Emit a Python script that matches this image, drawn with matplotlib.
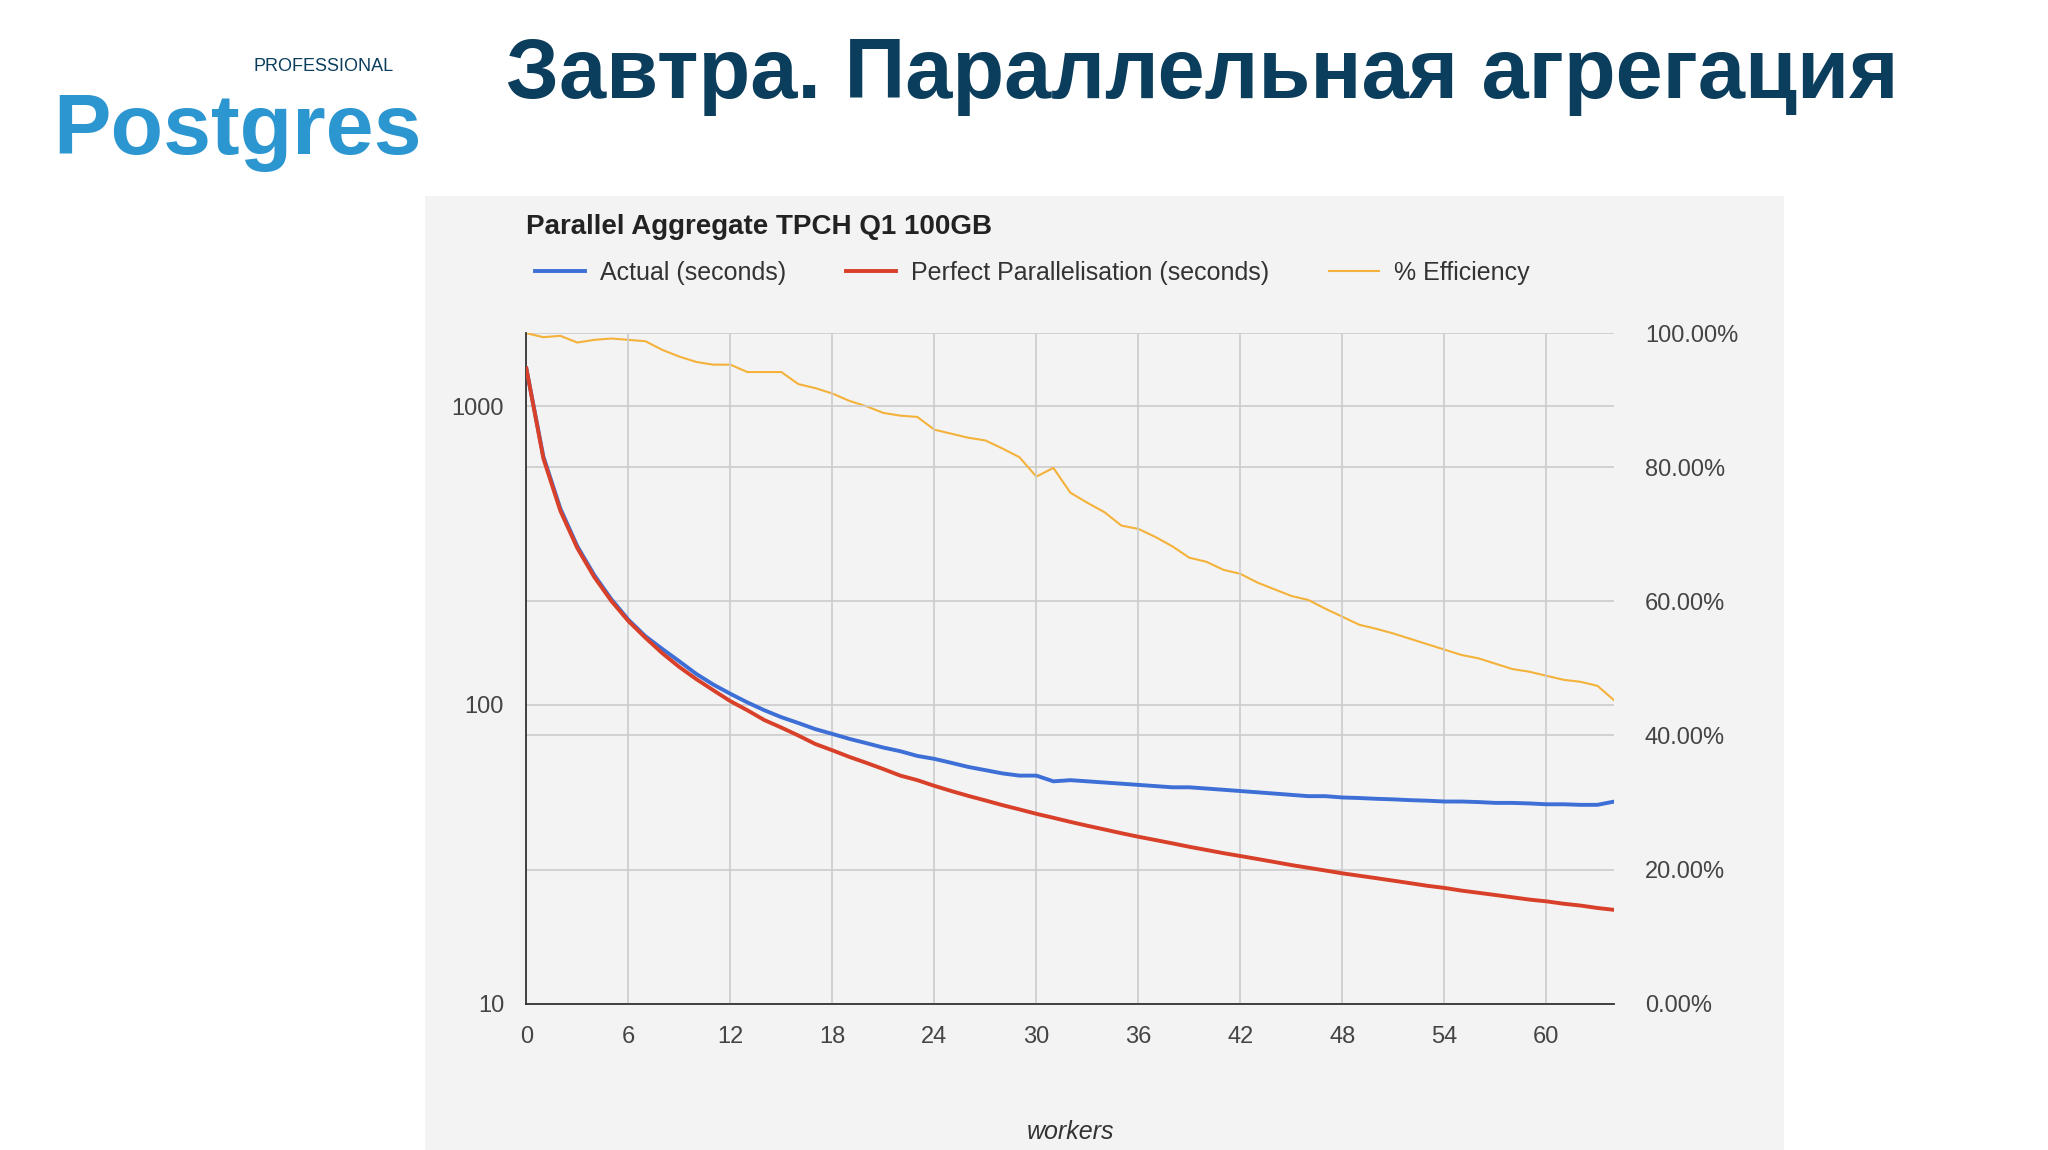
import matplotlib.pyplot as plt
from matplotlib.patches import Rectangle

plt.rcParams['font.family'] = ['Liberation Sans', 'DejaVu Sans']

workers = list(range(65))
actual = [1340, 680, 455, 340, 272, 226, 193, 170, 154, 140, 127, 117, 109, 102, 96, 91,
          87, 83, 80, 77, 74.5, 72, 70, 67.5, 66, 64, 62, 60.5, 59, 58, 58, 55.5, 56, 55.5,
          55, 54.5, 54, 53.5, 53, 53, 52.5, 52, 51.5, 51, 50.5, 50, 49.5, 49.5, 49, 48.8,
          48.5, 48.3, 48, 47.8, 47.5, 47.5, 47.3, 47, 47, 46.8, 46.5, 46.5, 46.3, 46.3, 47.5]
perfect = [1340, 670, 447, 335, 268, 223, 191, 168, 149, 134, 122, 112, 103, 96, 89, 84,
           79, 74, 70.5, 67, 64, 61, 58, 56, 53.6, 51.5, 49.6, 47.9, 46.2, 44.7, 43.2, 41.9,
           40.6, 39.4, 38.3, 37.2, 36.2, 35.3, 34.4, 33.5, 32.7, 31.9, 31.2, 30.5, 29.8, 29.1,
           28.5, 27.9, 27.3, 26.8, 26.3, 25.8, 25.3, 24.8, 24.4, 23.9, 23.5, 23.1, 22.7, 22.3,
           22.0, 21.6, 21.3, 20.9, 20.6]
efficiency = [100, 99.4, 99.6, 98.6, 99, 99.2, 99, 98.8, 97.5, 96.5, 95.7, 95.3, 95.3, 94.2,
              94.2, 94.2, 92.4, 91.8, 91, 89.9, 89.1, 88.1, 87.7, 87.5, 85.6, 85, 84.4, 84,
              82.8, 81.5, 78.6, 79.9, 76.2, 74.7, 73.3, 71.3, 70.8, 69.6, 68.2, 66.5, 65.9,
              64.7, 64.1, 62.8, 61.8, 60.8, 60.2, 58.9, 57.7, 56.5, 55.9, 55.2, 54.4, 53.6,
              52.8, 52, 51.5, 50.7, 49.9, 49.5, 48.9, 48.3, 48, 47.4, 45.2]

fig = plt.figure(figsize=(20.48, 11.5), dpi=100)
fig.patch.set_facecolor('white')

# grey chart panel
fig.patches.append(Rectangle((0.2073, 0), 0.6639, 0.8295, transform=fig.transFigure,
                             facecolor='#f3f3f3', edgecolor='none', zorder=-5))

# slide title and logo text
fig.text(0.247, 0.934, 'Завтра. Параллельная агрегация', fontsize=61, fontweight='bold',
         color='#0b3d5c', va='center')
fig.text(0.026, 0.885, 'Postgres', fontsize=62, fontweight='bold', color='#2b96d0', va='center')
fig.text(0.124, 0.942, 'PROFESSIONAL', fontsize=13, color='#0b3d5c', va='center')

ax = fig.add_axes([0.2570, 0.1273, 0.5313, 0.5830])
ax.set_facecolor('#f3f3f3')
ax.set_yscale('log')
ax.set_ylim(10, 1758)
ax.set_xlim(0, 64)
ax.set_xticks(range(0, 61, 6))
ax.set_yticks([10, 100, 1000])
ax.set_yticklabels(['10', '100', '1000'])
ax.minorticks_off()
ax.tick_params(length=0, labelsize=17, colors='#444444', pad=16)
ax.grid(True, axis='x', color='#cccccc', lw=1.2)
for s in ['top', 'right']:
    ax.spines[s].set_visible(False)
for s in ['left', 'bottom']:
    ax.spines[s].set_color('#333333')
    ax.spines[s].set_linewidth(1.3)

ax2 = ax.twinx()
ax2.set_ylim(0, 100)
ax2.set_yticks(range(0, 101, 20))
ax2.set_yticklabels([f'{v:.2f}%' for v in range(0, 101, 20)])
ax2.tick_params(length=0, labelsize=17, colors='#444444', pad=22)
ax2.grid(True, axis='y', color='#cccccc', lw=1.2)
for s in ax2.spines.values():
    s.set_visible(False)
ax.grid(True, axis='y', color='#cccccc', lw=1.2)

l1, = ax.plot(workers, actual, color='#3d6fd6', lw=2.8, zorder=3)
l2, = ax.plot(workers, perfect, color='#d8402a', lw=2.8, zorder=3)
l3, = ax2.plot(workers, efficiency, color='#f4b23b', lw=1.5, zorder=2)
ax.set_zorder(ax2.get_zorder() + 1)
ax.patch.set_visible(False)

ax.set_xlabel('workers', fontsize=18, style='italic', color='#333333', labelpad=52)

fig.text(0.257, 0.803, 'Parallel Aggregate TPCH Q1 100GB', fontsize=20, fontweight='bold',
         color='#222222', va='center')
fig.legend([l1, l2, l3], ['Actual (seconds)', 'Perfect Parallelisation (seconds)', '% Efficiency'],
           loc='center left', bbox_to_anchor=(0.250, 0.763), ncol=3, frameon=False,
           fontsize=18, handlelength=2.0, handletextpad=0.6, columnspacing=2.4,
           labelcolor='#333333')

fig.savefig('out.png', dpi=100)
